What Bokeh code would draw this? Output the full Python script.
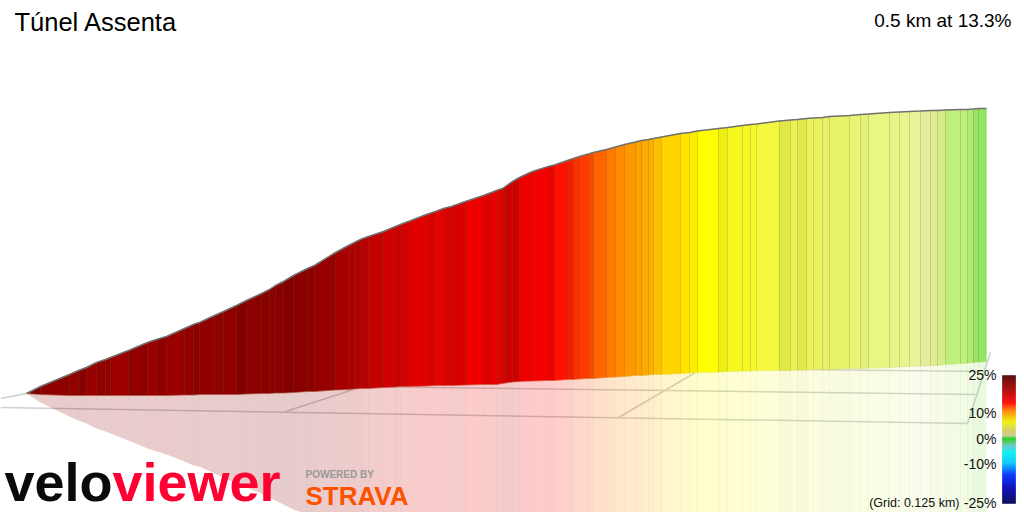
from bokeh.plotting import figure
from bokeh.models import Range1d, ColumnDataSource
from bokeh.core.properties import value
from bokeh.embed import file_html
from bokeh.resources import INLINE
import numpy as np

title = "Túnel Assenta"
summary = "0.5 km at 13.3%"

# Ribbon: edge position, upper profile, lower profile
edge_x = [26,40,69,78,86,96,105,110,128,147,156,166,184,193,199,214,223,236,246,261,269,275,283,293,307,314,335,348,354,361,368,383,395,400,408,426,435,443,451,465,483,491,496,502,505,512,519,532,548,554,567,573,579,588,593,606,615,624,635,641,648,653,661,680,689,697,718,727,742,750,756,779,790,797,806,813,822,829,849,860,868,889,899,909,920,930,937,945,960,967,973,978,986]
edge_top = [393,386,374,370,367,362,359,357,350,342,339,336,328,324,322,315,311,305,300,293,289,285,281,275,268,265,252,245,242,238.5,236,231,226,224,221,214,211,208,206,201,195,192,190,188,186,181,177,171,166,164.5,160,158,156,153.5,152,149,146.5,144,141.5,140,139,138,136.5,133,132,130.5,128,127,125,124,123.5,120.5,119.5,119,118,117.5,117,116,115,114,113.5,112,111.5,111,110.5,110,110,109.5,109,109,108.5,108,108]
edge_base = [393,394,395,395,395,395,395,395,395,395,395,395,394.5,394.5,394,394,394,394,393.5,393,393,392.5,392.5,392,391,391,389.5,389,388.5,388,388,387,386.5,386,386,385.5,385,385,385,384.5,384,384,384,383,382.5,381.5,381,380.5,380,380,379,379,378.5,378,378,377,376.5,376,375,375,374.5,374,374,373,372.5,372,371.5,371,370.5,370.5,370,370,370,369.5,369.5,369,369,369,368,368,367.5,367,366.5,366,365.5,365,365,364,363,362.5,362,361.5,361]
segment_colors = ["#7d0000","#8f0000","#930000","#880000","#990000","#930000","#930000","#9c0000","#900000","#9a0000","#900000","#990000","#930000","#8c0000","#930000","#900000","#900000","#840000","#8c0000","#880000",
"#8c0000","#8c0000","#840000","#8a0000","#8c0000","#960000","#a60000","#ad0000","#b00000","#b80000","#c40000","#d00000","#c80000","#d30000","#e00000","#da0000","#e60000","#dd0000","#d80000","#ee0000","#e40000","#ea0000","#e20000","#d80000","#cc0000","#d00000","#ee0000","#f50000","#ee0000","#ff1000","#f02000","#ff3000","#ff3c00","#fa4800","#ff6400","#ff7800","#ff8a00","#ff9800","#fca000","#fcaa00","#fbb000","#fcc000","#ffd400","#ffe400","#fcec00","#ffff00","#eeee14","#f4f820","#f8f820","#f4f830","#f4f83c","#e0e848","#ecf250","#e2e850","#ecf45c","#eaf460","#e6f068","#e6f268","#e8f474","#e4f07a","#e8f684","#e8f488","#e8f48c","#e8f49c","#e4eca0","#e0ec90","#d8ec8c","#c0f07c","#bcf078","#b0ec70","#98e468","#90e860"]
assert len(edge_x) == len(edge_top) == len(edge_base) == len(segment_colors) + 1

# Ground grid
grid_x = [[0,26],[0,967],[350,975],[793,985],[967,990],[618,695],[285,353]]
grid_y = [[398,393],[407,423],[386,394],[369,371],[423,352],[417,372],[411,389]]

# Gradient legend
scale_pos = [375,382,395,402,410,421,431,435,438,440,445,452,462,474,488,503]
scale_r = [0x4d,0x80,0xd0,0xff,0xff,0xf0,0xd0,0xc8,0x10,0x40,0x60,0x00,0x00,0x00,0x00,0x00]
scale_g = [0,0,0,0,0x80,0xf0,0xc8,0xc8,0xd0,0xc8,0xc8,0xf0,0xc8,0x30,0x00,0x00]
scale_b = [0,0,0,0,0,0,0x70,0x88,0x20,0x40,0xc8,0xf0,0xff,0xff,0xb0,0x50]
scale_labels = ["25%","10%","0%","-10%","-25%"]
scale_label_y = [374,412,438,463,502]
grid_note = "(Grid: 0.125 km)"

TEXT = value("Liberation Sans")
p = figure(width=1024, height=512, x_range=Range1d(0,1024), y_range=Range1d(512,0),
           x_axis_type=None, y_axis_type=None, toolbar_location=None,
           output_backend="svg", min_border=0, outline_line_color=None,
           background_fill_color="white", border_fill_color="white")
p.grid.visible = False

def edge_alpha(c):
    r = int(c[1:3],16); g = int(c[3:5],16)
    return 0.45 - 0.27*min(1,(r+g)/400)

# grid
p.multi_line(grid_x, grid_y, line_color="#cdd0d0", line_width=1.5)

# mirrored ribbon
x = np.array(edge_x, float); top = np.array(edge_top, float); base = np.array(edge_base, float)
mirror = 2*base - top
xs, ys, ms = [], [], []
for i in range(len(segment_colors)):
    xs.append([x[i],x[i+1],x[i+1],x[i]])
    ys.append([top[i],top[i+1],base[i+1],base[i]])
    ms.append([base[i],base[i+1],mirror[i+1],mirror[i]])
p.patches(xs, ms, fill_color=segment_colors, fill_alpha=0.2, line_color=None)
p.segment(x[1:-1], base[1:-1], x[1:-1], mirror[1:-1], line_color="#806040", line_alpha=0.05, line_width=1)

# ribbon
p.patches(xs, ys, fill_color=segment_colors, line_color=segment_colors, line_width=0.5)
alphas = [edge_alpha(c) for c in segment_colors[1:]]
p.segment(x[1:-1], top[1:-1], x[1:-1], base[1:-1], line_color="#503000", line_alpha=alphas, line_width=1)
p.line(x, top, line_color="#707070", line_width=1.5)
p.line(x, base, line_color="#c8c880", line_alpha=0.25, line_width=1)

# legend bar
rows = np.arange(scale_pos[0], scale_pos[-1])
cols = ["#%02x%02x%02x" % (int(np.interp(r,scale_pos,scale_r)),int(np.interp(r,scale_pos,scale_g)),int(np.interp(r,scale_pos,scale_b))) for r in rows]
p.quad(left=1002, right=1015, top=rows, bottom=rows+1, fill_color=cols, line_color=cols, line_width=0.5)

src = ColumnDataSource(dict(x=[996]*5, y=scale_label_y, t=scale_labels))
p.text("x","y",text="t",source=src,text_font=TEXT,text_font_size="14px",text_align="right",text_baseline="middle",text_color="#111111")
p.text([959],[502],text=[grid_note],text_font=TEXT,text_font_size="12.5px",text_align="right",text_baseline="middle",text_color="#111111")

# title
p.text([14],[21],text=[title],text_font=TEXT,text_font_size="25.5px",text_align="left",text_baseline="middle",text_color="#000000")
p.text([1011],[20],text=[summary],text_font=TEXT,text_font_size="19px",text_align="right",text_baseline="middle",text_color="#000000")

# marks
p.text([4],[481],text=["velo"],text_font=TEXT,text_font_style="bold",text_font_size="54px",text_align="left",text_baseline="middle",text_color="#0a0a0a")
p.text([112],[481],text=["viewer"],text_font=TEXT,text_font_style="bold",text_font_size="54px",text_align="left",text_baseline="middle",text_color="#ff0033")
p.text([305],[474],text=["POWERED BY"],text_font=TEXT,text_font_style="bold",text_font_size="10px",text_align="left",text_baseline="middle",text_color="#999999")
p.text([305],[495],text=["STRAVA"],text_font=TEXT,text_font_style="bold",text_font_size="26px",text_align="left",text_baseline="middle",text_color="#fc5200")

open("out.html","w").write(file_html(p, INLINE))
